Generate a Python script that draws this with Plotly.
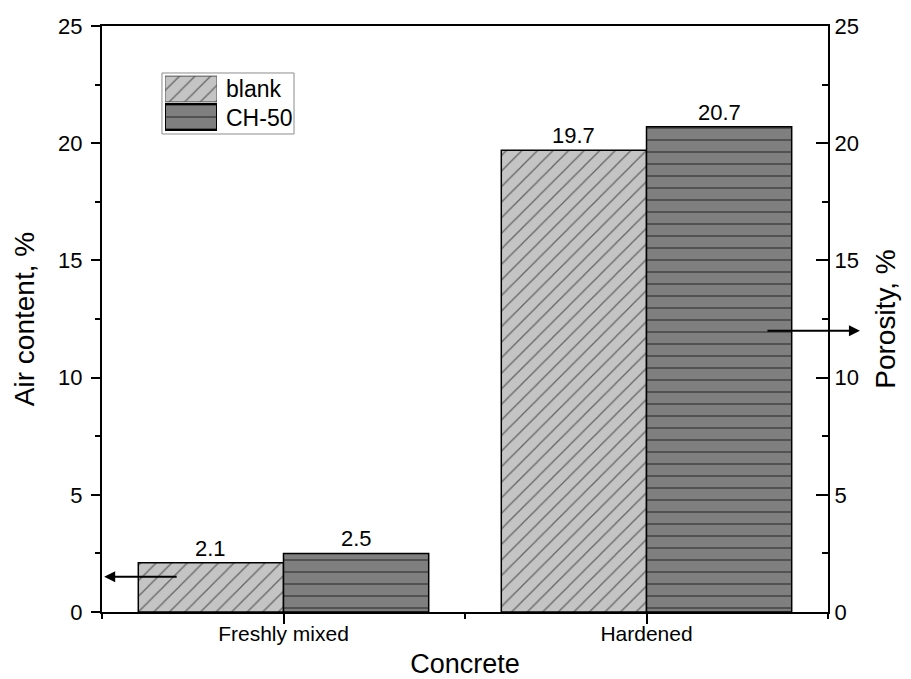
import plotly.graph_objects as go

# Concrete states on the x axis and the two mixes
categories = ["Freshly mixed", "Hardened"]
x_pos = [1, 2]
blank = [2.1, 19.7]
ch50 = [2.5, 20.7]
series_names = ["blank", "CH-50"]

y_ticks = [0, 5, 10, 15, 20, 25]

FONT = "Liberation Sans, Arial, sans-serif"
LIGHT = "#c4c4c4"
DARK = "#7f7f7f"
BAR_WIDTH = 0.4  # two bars per group, no gap between them

HATCH_BLANK = dict(shape="/", fgcolor="black", bgcolor=LIGHT, size=11, solidity=0.11)
HATCH_CH50 = dict(shape="-", fgcolor="#111111", bgcolor=DARK, size=12, solidity=0.14)

fig = go.Figure()

fig.add_trace(go.Bar(
    x=x_pos, y=blank, name=series_names[0], width=BAR_WIDTH, offset=-BAR_WIDTH,
    marker=dict(color=LIGHT, line=dict(color="black", width=1.5), pattern=HATCH_BLANK),
    showlegend=False,
))
fig.add_trace(go.Bar(
    x=x_pos, y=ch50, name=series_names[1], width=BAR_WIDTH, offset=0,
    marker=dict(color=DARK, line=dict(color="black", width=1.5), pattern=HATCH_CH50),
    showlegend=False,
))
# keeps the right-hand porosity axis attached
fig.add_trace(go.Scatter(x=[], y=[], yaxis="y2", showlegend=False,
                         hoverinfo="skip"))

# legend swatches drawn as small patterned bars on an inset axis
fig.add_trace(go.Bar(
    y=[1], x=[1], orientation="h", xaxis="x3", yaxis="y3", width=0.92,
    marker=dict(color=LIGHT, line=dict(color="#555555", width=1), pattern=HATCH_BLANK),
    showlegend=False, hoverinfo="skip",
))
fig.add_trace(go.Bar(
    y=[0], x=[1], orientation="h", xaxis="x3", yaxis="y3", width=0.92,
    marker=dict(color=DARK, line=dict(color="black", width=2), pattern=HATCH_CH50),
    showlegend=False, hoverinfo="skip",
))

# value labels sitting just above each bar
value_labels = []
for values, shift in ((blank, -BAR_WIDTH / 2), (ch50, BAR_WIDTH / 2)):
    for xp, v in zip(x_pos, values):
        value_labels.append(dict(
            text=f"{v}", x=xp + shift, y=v, xref="x", yref="y",
            xanchor="center", yanchor="bottom", yshift=0, showarrow=False,
            font=dict(size=22),
        ))

axis_common = dict(showline=True, linecolor="black", linewidth=2,
                   tickcolor="black", tickwidth=2, showgrid=False,
                   zeroline=False, automargin=False)

fig.update_layout(
    width=911, height=679,
    margin=dict(l=102, r=83, t=26, b=67),
    paper_bgcolor="white", plot_bgcolor="white",
    barmode="overlay",
    font=dict(family=FONT, color="black"),
    xaxis=dict(
        **axis_common, range=[0.5, 2.5], mirror=True,
        tickvals=x_pos, ticktext=categories, ticks="outside", ticklen=10,
        tickfont=dict(size=21), ticklabelstandoff=-8,
        minor=dict(ticks="outside", ticklen=5, tickwidth=2,
                   tickcolor="black", dtick=0.5, tick0=0.5),
        title=dict(text="Concrete", font=dict(size=27), standoff=14),
    ),
    yaxis=dict(
        **axis_common, range=[0, 25], tickvals=y_ticks, ticks="outside",
        ticklen=9, tickfont=dict(size=22), ticklabelstandoff=4,
        minor=dict(ticks="outside", ticklen=5, tickwidth=2,
                   tickcolor="black", dtick=2.5),
        title=dict(text="Air content, %", font=dict(size=28), standoff=15),
    ),
    yaxis2=dict(
        **axis_common, range=[0, 25], tickvals=y_ticks, overlaying="y",
        side="right", ticks="inside", ticklen=12, tickfont=dict(size=22),
        minor=dict(ticks="inside", ticklen=6, tickwidth=2,
                   tickcolor="black", dtick=2.5),
        title=dict(text="Porosity, %", font=dict(size=28), standoff=18),
    ),
    xaxis3=dict(domain=[0.0868, 0.1584], range=[0, 1], anchor="y3",
                visible=False, fixedrange=True),
    yaxis3=dict(domain=[0.8208, 0.9164], range=[-0.5, 1.5], anchor="x3",
                visible=False, fixedrange=True),
    shapes=[dict(type="rect", xref="paper", yref="paper",
                 x0=0.0826, x1=0.2645, y0=0.8157, y1=0.9198,
                 line=dict(color="#8c8c8c", width=1), fillcolor="rgba(0,0,0,0)")],
    annotations=value_labels + [
        dict(text=series_names[0], xref="paper", yref="paper", x=0.168,
             y=0.8925, xanchor="left", yanchor="middle", showarrow=False,
             font=dict(size=23)),
        dict(text=series_names[1], xref="paper", yref="paper", x=0.168,
             y=0.843, xanchor="left", yanchor="middle", showarrow=False,
             font=dict(size=23)),
        # arrows pointing each set of bars to its own axis
        dict(text="", xref="paper", yref="y", x=0.003, y=1.5, ax=74, ay=0,
             showarrow=True, arrowhead=2, arrowsize=1.1, arrowwidth=2,
             arrowcolor="black"),
        dict(text="", xref="paper", yref="y", x=1.044, y=12, ax=-94, ay=0,
             showarrow=True, arrowhead=2, arrowsize=1.1, arrowwidth=2,
             arrowcolor="black"),
    ],
)

fig.write_html("out.html")
